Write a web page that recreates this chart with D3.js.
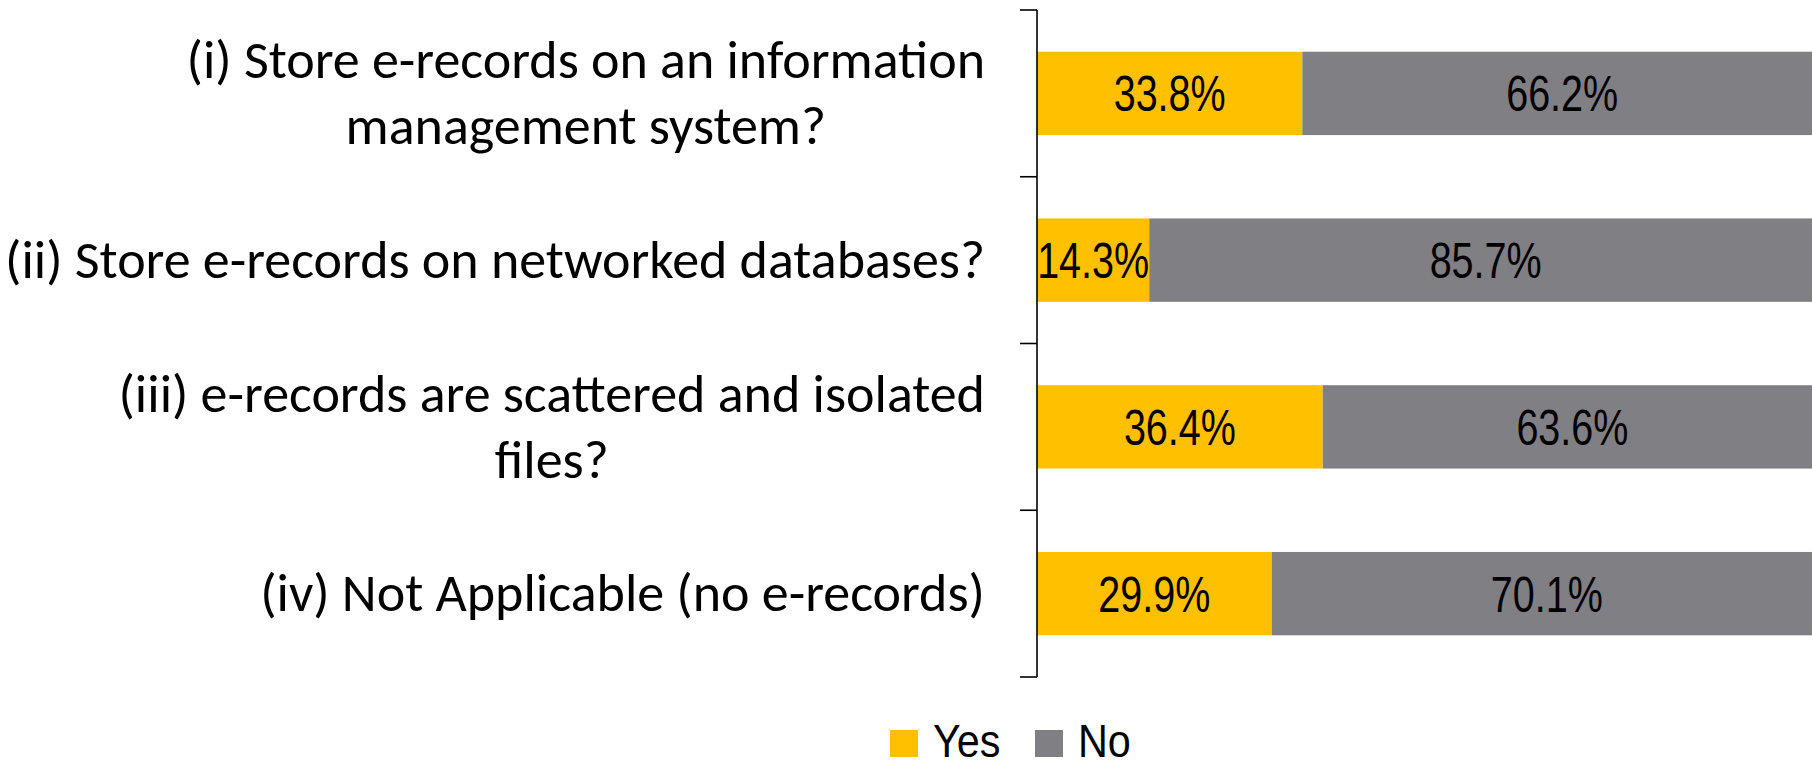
<!DOCTYPE html>
<html>
<head>
<meta charset="utf-8">
<script src="https://cdn.jsdelivr.net/npm/d3@7"></script>
<style>
  html, body { margin: 0; padding: 0; background: #fff; overflow: hidden; }
  svg { display: block; }
</style>
</head>
<body>
<svg id="chart" width="1812" height="763"></svg>
<script>
// Survey questions (line breaks mark where the label wraps)
const categories = [
  "(i) Store e-records on an information\nmanagement system?",
  "(ii) Store e-records on networked databases?",
  "(iii) e-records are scattered and isolated\nfiles?",
  "(iv) Not Applicable (no e-records)"
];
const yesValues = [33.8, 14.3, 36.4, 29.9];
const noValues  = [66.2, 85.7, 63.6, 70.1];
const seriesNames = ["Yes", "No"];
const seriesColors = ["#FFC000", "#807F83"];

const svg = d3.select("#chart");

const axisX = 1037;
const x = d3.scaleLinear().domain([0, 100]).range([axisX, 1822]);
const y = d3.scaleBand()
  .domain(categories)
  .range([10, 677])
  .paddingInner(0.5)
  .paddingOuter(0.25);

const rows = categories.map((c, i) => ({ cat: c, yes: yesValues[i], no: noValues[i] }));
const stack = d3.stack().keys(["yes", "no"])(rows);

// Stacked bars
const layers = svg.append("g").selectAll("g")
  .data(stack)
  .join("g")
  .attr("fill", (d, i) => seriesColors[i]);

layers.selectAll("rect")
  .data(d => d)
  .join("rect")
  .attr("x", d => x(d[0]))
  .attr("width", d => x(d[1]) - x(d[0]))
  .attr("y", d => y(d.data.cat))
  .attr("height", y.bandwidth());

// Value labels centred inside each segment, in a condensed sans
const valueFont = "'Liberation Sans Narrow', 'Arial Narrow', 'Liberation Sans', Arial, sans-serif";
layers.selectAll("text")
  .data(d => d)
  .join("text")
  .attr("transform", d =>
    `translate(${(x(d[0]) + x(d[1])) / 2},${y(d.data.cat) + y.bandwidth() / 2}) scale(0.79,1)`)
  .attr("dy", "0.36em")
  .attr("text-anchor", "middle")
  .attr("font-family", valueFont)
  .attr("font-size", 50)
  .attr("fill", "#000")
  .text(d => (d[1] - d[0]).toFixed(1) + "%");

// Vertical category axis with ticks between categories
const axis = svg.append("g").attr("stroke", "#000").attr("stroke-width", 1.6);
const r = y.range();
axis.append("line")
  .attr("x1", axisX).attr("x2", axisX)
  .attr("y1", r[0]).attr("y2", r[1]);
d3.range(categories.length + 1).forEach(i => {
  const ty = r[0] + i * (r[1] - r[0]) / categories.length;
  axis.append("line")
    .attr("x1", axisX - 17).attr("x2", axisX)
    .attr("y1", ty).attr("y2", ty);
});

// Category labels: block right-aligned, wrapped lines centred on each other
const labelFont = "Carlito, Calibri, 'Open Sans', sans-serif";
const labelSize = 54;
const lineGap = 66;
const labelRight = 985;
const labelG = svg.append("g");
categories.forEach(cat => {
  const lines = cat.split("\n");
  const cy = y(cat) + y.bandwidth() / 2;
  const g = labelG.append("g");
  const texts = lines.map((ln, j) => g.append("text")
    .attr("font-family", labelFont)
    .attr("font-size", labelSize)
    .attr("fill", "#000")
    .attr("text-anchor", "middle")
    .attr("y", cy + (j - (lines.length - 1) / 2) * lineGap)
    .attr("dy", "0.33em")
    .text(ln));
  const maxW = d3.max(texts, t => t.node().getComputedTextLength());
  texts.forEach(t => t.attr("x", labelRight - maxW / 2));
});

// Legend
const legend = svg.append("g");
const legendItems = [
  { name: seriesNames[0], color: seriesColors[0], x: 890 },
  { name: seriesNames[1], color: seriesColors[1], x: 1035 }
];
legendItems.forEach(it => {
  legend.append("rect")
    .attr("x", it.x).attr("y", 730)
    .attr("width", 28).attr("height", 27)
    .attr("fill", it.color);
  legend.append("text")
    .attr("transform", `translate(${it.x + 43},757) scale(0.88,1)`)
    .attr("font-family", valueFont)
    .attr("font-size", 47)
    .attr("fill", "#000")
    .text(it.name);
});
</script>
</body>
</html>
